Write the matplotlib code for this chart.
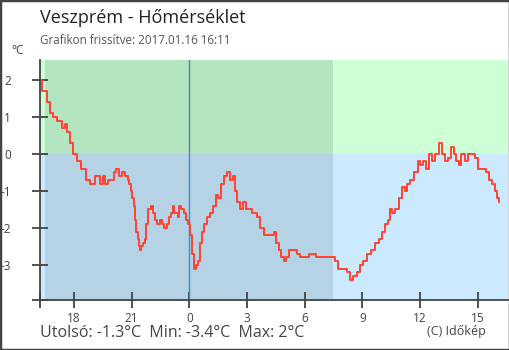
import numpy as np
import matplotlib
matplotlib.use("Agg")
import matplotlib.pyplot as plt
from matplotlib.patches import Rectangle

plt.rcParams['font.family'] = ['Open Sans', 'DejaVu Sans']

# time in hours counted from the previous day's midnight (24 = 0:00), temperature in °C
hours = [16.23, 16.49, 16.66, 16.84, 17.01, 17.27, 17.44, 17.59, 17.70, 17.88,
         18.05, 18.22, 18.48, 18.74, 18.92, 19.26, 19.44, 19.56, 19.70, 19.87,
         20.05, 20.13, 20.25, 20.39, 20.57, 20.74, 20.83, 20.91, 20.97, 21.06,
         21.14, 21.21, 21.26, 21.35, 21.40, 21.43, 21.52, 21.64, 21.73, 21.81,
         21.92, 22.10, 22.16, 22.27, 22.39, 22.51, 22.62, 22.77, 22.91, 23.00,
         23.08, 23.17, 23.26, 23.38, 23.43, 23.52, 23.60, 23.69, 23.78, 23.86,
         23.95, 24.07, 24.18, 24.30, 24.42, 24.52, 24.59, 24.70, 24.82, 24.99,
         25.17, 25.30, 25.43, 25.60, 25.74, 25.91, 26.03, 26.21, 26.34, 26.43,
         26.55, 26.73, 26.85, 27.07, 27.42, 27.59, 27.77, 27.99, 28.37, 28.46,
         28.58, 28.72, 28.86, 28.98, 29.10, 29.29, 29.50, 29.67, 29.85, 30.19,
         30.28, 30.54, 30.63, 31.49, 31.63, 31.80, 32.10, 32.27, 32.45, 32.62,
         32.79, 32.97, 33.14, 33.31, 33.57, 33.78, 33.96, 34.13, 34.23, 34.41,
         34.48, 34.61, 34.82, 35.00, 35.13, 35.31, 35.39, 35.57, 35.83, 35.95,
         36.09, 36.21, 36.38, 36.56, 36.69, 36.90, 37.08, 37.21, 37.39, 37.56,
         37.70, 37.82, 37.94, 38.08, 38.22, 38.43, 38.57, 38.78, 38.95, 39.13,
         39.39, 39.51, 39.65, 39.82, 39.96, 40.08, 40.13]
temps = [2.0, 1.7, 1.4, 1.1, 1.0, 0.9, 0.7, 0.8, 0.6, 0.3,
         0.0, -0.2, -0.4, -0.7, -0.8, -0.6, -0.8, -0.6, -0.8, -0.7,
         -0.7, -0.5, -0.4, -0.6, -0.5, -0.6, -0.7, -0.8, -1.0, -1.2,
         -1.4, -1.8, -2.1, -2.3, -2.5, -2.6, -2.5, -2.4, -2.3, -1.9,
         -1.5, -1.4, -1.6, -1.8, -1.9, -1.8, -1.9, -2.0, -1.9, -1.7,
         -1.6, -1.4, -1.6, -1.6, -1.7, -1.4, -1.5, -1.5, -1.6, -1.8,
         -1.9, -2.2, -2.7, -3.1, -3.0, -2.9, -2.4, -2.1, -1.9, -1.7,
         -1.6, -1.4, -1.1, -1.2, -0.8, -0.6, -0.5, -0.7, -0.6, -1.0,
         -1.3, -1.5, -1.3, -1.5, -1.6, -1.7, -2.0, -2.2, -2.2, -2.1,
         -2.4, -2.6, -2.8, -2.9, -2.8, -2.6, -2.6, -2.7, -2.8, -2.8,
         -2.7, -2.7, -2.8, -2.8, -2.9, -3.1, -3.1, -3.2, -3.4, -3.3,
         -3.2, -3.0, -2.9, -2.7, -2.6, -2.4, -2.3, -2.1, -1.9, -1.8,
         -1.5, -1.6, -1.5, -1.2, -0.9, -1.0, -0.8, -0.7, -0.5, -0.2,
         -0.3, -0.2, -0.4, 0.0, -0.2, 0.0, 0.3, 0.0, -0.2, -0.1,
         0.2, 0.0, -0.2, -0.3, 0.0, -0.2, 0.0, 0.0, -0.1, -0.4,
         -0.4, -0.5, -0.7, -0.8, -1.0, -1.2, -1.3]

x_ticks = [18, 21, 24, 27, 30, 33, 36, 39]
x_labels = ["18", "21", "0", "3", "6", "9", "12", "15"]
y_ticks = [-3, -2, -1, 0, 1, 2]

x_lo, x_hi = 16.23, 40.58
y_lo, y_hi = -3.95, 2.54
sunset, sunrise = 16.5, 31.48

fig = plt.figure(figsize=(5.1, 3.5), dpi=100)
ax = fig.add_axes([40 / 510, 50 / 350, 468 / 510, 240 / 350])

# day / night backgrounds, split at 0 °C
ax.fill_between([x_lo, sunset], 0, y_hi, color="#ccffd6", lw=0)
ax.fill_between([x_lo, sunset], y_lo, 0, color="#cceaff", lw=0)
ax.fill_between([sunset, sunrise], 0, y_hi, color="#b5e5c0", lw=0)
ax.fill_between([sunset, sunrise], y_lo, 0, color="#b5d3e5", lw=0)
ax.fill_between([sunrise, x_hi], 0, y_hi, color="#ccffd6", lw=0)
ax.fill_between([sunrise, x_hi], y_lo, 0, color="#cceaff", lw=0)

ax.axvline(24, color="#3a8cc8", lw=1)
ax.plot(hours, temps, color="#ff4433", lw=1.4, drawstyle="steps-mid")

ax.set_xlim(x_lo, x_hi)
ax.set_ylim(y_lo, y_hi)

ax.set_xticks([x_lo] + x_ticks)
ax.set_xticklabels([""] + x_labels)
ax.set_yticks([y_lo] + y_ticks)
ax.set_yticklabels([""] + [str(v) for v in y_ticks])
ax.tick_params(axis="both", direction="inout", length=12, width=1.3,
               color="#444444", labelcolor="#444444", labelsize=8.5)
ax.tick_params(axis="y", pad=15)
ax.tick_params(axis="x", pad=3)

for side in ["top", "right"]:
    ax.spines[side].set_visible(False)
for side in ["left", "bottom"]:
    ax.spines[side].set_color("#444444")
    ax.spines[side].set_linewidth(1.3)

fig.text(40 / 510, 1 - 18 / 350, "Veszprém - Hőmérséklet", fontsize=13,
         color="#222222", va="center", ha="left")
fig.text(40 / 510, 1 - 41 / 350, "Grafikon frissítve: 2017.01.16 16:11",
         fontsize=8.4, color="#555555", va="center", ha="left")
fig.text(18 / 510, 1 - 50 / 350, "°C", fontsize=8.5, color="#444444",
         va="center", ha="center")
fig.text(40 / 510, 1 - 333 / 350, "Utolsó: -1.3°C  Min: -3.4°C  Max: 2°C",
         fontsize=11.5, color="#444444", va="center", ha="left")
fig.text(486 / 510, 1 - 331 / 350, "(C) Időkép", fontsize=9,
         color="#444444", va="center", ha="right")

fig.patches.append(Rectangle((0, 0), 1, 1, transform=fig.transFigure,
                             fill=False, edgecolor="#444444", lw=2.5))

fig.savefig("out.png", dpi=100)
